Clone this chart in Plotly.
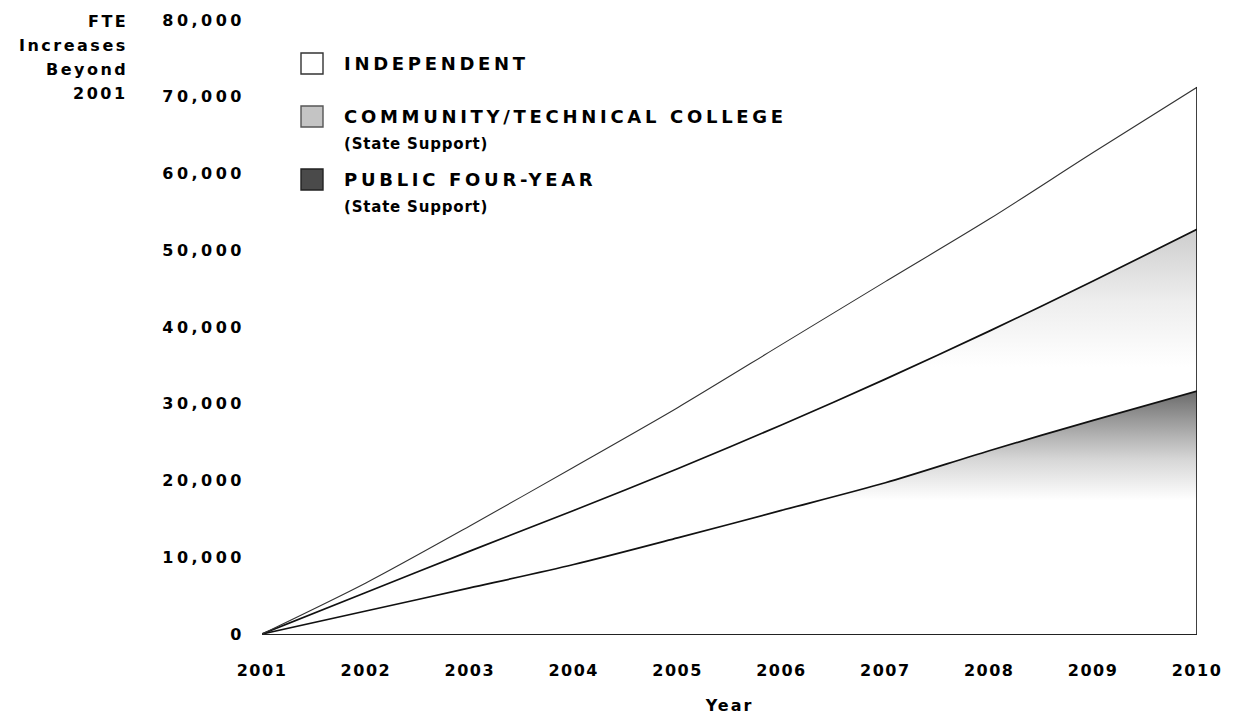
import plotly.graph_objects as go

# ---------------- data ----------------
years = [2001, 2002, 2003, 2004, 2005, 2006, 2007, 2008, 2009, 2010]
public_four_year = [0, 3000, 6000, 9050, 12520, 16100, 19700, 23880, 27840, 31660]
community_technical = [0, 2400, 4800, 7050, 9010, 11130, 13510, 15580, 18140, 21070]
independent = [0, 1250, 3270, 5640, 7960, 10470, 12700, 14600, 16755, 18500]

series_names = ["PUBLIC FOUR-YEAR", "COMMUNITY/TECHNICAL COLLEGE", "INDEPENDENT"]
legend_main = ["INDEPENDENT", "COMMUNITY/TECHNICAL COLLEGE", "PUBLIC FOUR-YEAR"]
legend_sub = ["", "(State Support)", "(State Support)"]
y_tick_values = [0, 10000, 20000, 30000, 40000, 50000, 60000, 70000, 80000]
y_title_lines = ["FTE", "Increases", "Beyond", "2001"]
x_title = "Year"

# ---------------- layout constants ----------------
W, H = 1241, 716
ML, MR, MT, MB = 262, 44, 20, 82
PW, PH = W - ML - MR, H - MT - MB
FONT = "DejaVu Sans"


def px_x(px):
    return (px - ML) / PW


def px_y(py):
    return (H - MB - py) / PH


def spaced(text, s):
    return f'<span style="letter-spacing:{s}px">{text}</span>'


fig = go.Figure()

fill_styles = [
    dict(fillgradient=dict(type="vertical",
                           colorscale=[[0, "#ffffff"], [0.55, "#ffffff"], [0.72, "#d6d6d6"],
                                       [0.88, "#9a9a9a"], [1, "#6a6a6a"]])),
    dict(fillgradient=dict(type="vertical",
                           colorscale=[[0, "#ffffff"], [0.66, "#ffffff"], [0.82, "#eeeeee"],
                                       [1, "#cdcdcd"]])),
    dict(fillcolor="#ffffff"),
]
line_widths = [1.7, 1.7, 1.1]
line_colors = ["#111111", "#111111", "#333333"]

for name, vals, fs, lw, lc in zip(series_names, [public_four_year, community_technical, independent],
                                  fill_styles, line_widths, line_colors):
    fig.add_trace(go.Scatter(
        x=years, y=vals, name=name, stackgroup="one", mode="lines",
        line=dict(color=lc, width=lw, shape="spline", smoothing=0.8),
        showlegend=False, hoverinfo="skip", **fs))

total_last = public_four_year[-1] + community_technical[-1] + independent[-1]
fig.add_trace(go.Scatter(
    x=[years[-1], years[-1]], y=[0, total_last], mode="lines",
    line=dict(color="#111111", width=1.6), showlegend=False, hoverinfo="skip",
    cliponaxis=False))

# ---------------- manual legend ----------------
swatch_fill = ["#ffffff", "#c4c4c4", "#4a4a4a"]
swatch_line = ["#333333", "#555555", "#222222"]
swatch_top = [53, 106, 169]
row_center = [63, 117, 179]
sub_center = [None, 144, 207]
shapes = []
annotations = []
for i in range(3):
    shapes.append(dict(type="rect", xref="paper", yref="paper",
                       x0=px_x(301), x1=px_x(323),
                       y0=px_y(swatch_top[i] + 21), y1=px_y(swatch_top[i]),
                       fillcolor=swatch_fill[i], line=dict(color=swatch_line[i], width=1.4)))
    annotations.append(dict(text=spaced(legend_main[i], 3.7), xref="paper", yref="paper",
                            x=px_x(342), y=px_y(row_center[i]), xanchor="left", yanchor="middle",
                            showarrow=False, font=dict(family=FONT, size=18, color="#000", weight="bold")))
    if legend_sub[i]:
        annotations.append(dict(text=spaced(legend_sub[i], 0.8), xref="paper", yref="paper",
                                x=px_x(342), y=px_y(sub_center[i]), xanchor="left", yanchor="middle",
                                showarrow=False, font=dict(family=FONT, size=15, color="#000", weight="bold")))

# y-axis title (stacked lines, right aligned)
title_centers = [21, 45, 69, 93]
for line, yc in zip(y_title_lines, title_centers):
    annotations.append(dict(text=spaced(line, 2.5), xref="paper", yref="paper",
                            x=px_x(130), y=px_y(yc), xanchor="right", yanchor="middle",
                            showarrow=False, font=dict(family=FONT, size=16, color="#000", weight="bold")))

fig.update_layout(
    width=W, height=H,
    margin=dict(l=ML, r=MR, t=MT, b=MB, autoexpand=False),
    paper_bgcolor="white", plot_bgcolor="white",
    font=dict(family=FONT, color="#000"),
    shapes=shapes, annotations=annotations,
    xaxis=dict(range=[years[0], years[-1]], showgrid=False, zeroline=False,
               showline=True, linecolor="#222222", linewidth=1.2, ticks="",
               tickvals=years, ticktext=[spaced(str(y), 1.5) for y in years],
               tickfont=dict(family=FONT, size=16, weight="bold"),
               ticklabelstandoff=22,
               title=dict(text=spaced(x_title, 2), standoff=20,
                          font=dict(family=FONT, size=16, weight="bold"))),
    yaxis=dict(range=[0, 80000], showgrid=False, zeroline=False, showline=False,
               ticks="", tickvals=y_tick_values,
               ticktext=[spaced(f"{v:,}", 3.5) for v in y_tick_values],
               tickfont=dict(family=FONT, size=16, weight="bold"),
               ticklabelstandoff=16),
)

fig.write_html("out.html")
